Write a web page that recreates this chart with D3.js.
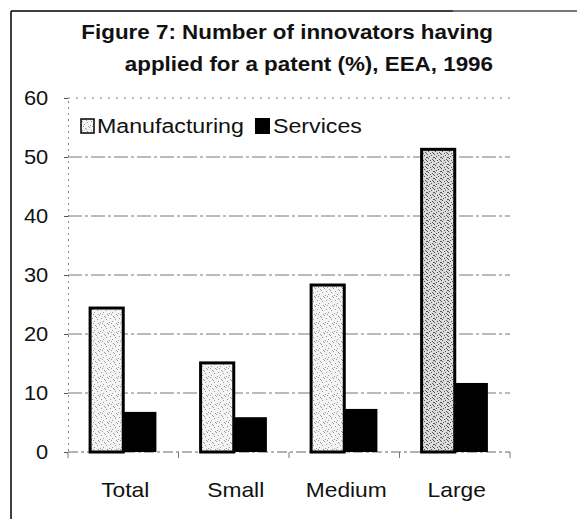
<!DOCTYPE html>
<html lang="en">
<head>
    <meta charset="UTF-8">
    <title>Figure 7</title>
    <script src="https://d3js.org/d3.v7.min.js"></script>
    <style>
        body { margin: 0; background: #fff; font-family: "Liberation Sans", Arial, sans-serif; }
        svg { display: block; }
    </style>
</head>
<body>
    <div id="container"></div>
    <script>
        // data
        const categories = ['Total', 'Small', 'Medium', 'Large'];
        const seriesNames = ['Manufacturing', 'Services'];
        const manufacturing = [24.4, 15.1, 28.3, 51.3];
        const services = [6.8, 5.9, 7.3, 11.7];
        const yTicks = [0, 10, 20, 30, 40, 50, 60];

        const width = 577, height = 519;
        const plot = {left: 68, right: 510, top: 98, bottom: 452};
        const stretch = 1.14; // the scanned text is wider than plain Arial

        const svg = d3.select('#container').append('svg')
            .attr('width', width).attr('height', height);

        // stipple patterns for manufacturing bars
        const defs = svg.append('defs');
        const pat = defs.append('pattern').attr('id', 'stip')
            .attr('width', 9).attr('height', 9).attr('patternUnits', 'userSpaceOnUse');
        pat.append('rect').attr('width', 9).attr('height', 9).attr('fill', '#f4f4f4');
        [[0,0],[5,1],[2,3],[7,4],[4,6],[1,7],[8,8],[6,2],[3,8]].forEach(p => {
            pat.append('rect').attr('x', p[0]).attr('y', p[1]).attr('width', 1).attr('height', 1).attr('fill', '#9a9a9a');
        });
        const pat2 = defs.append('pattern').attr('id', 'stipDark')
            .attr('width', 7).attr('height', 7).attr('patternUnits', 'userSpaceOnUse');
        pat2.append('rect').attr('width', 7).attr('height', 7).attr('fill', '#dcdcdc');
        [[0,0],[4,1],[2,2],[6,3],[1,4],[5,5],[3,6],[0,3],[6,6]].forEach(p => {
            pat2.append('rect').attr('x', p[0]).attr('y', p[1]).attr('width', 1).attr('height', 1).attr('fill', '#555');
        });

        // frame
        svg.append('line').attr('x1', 11).attr('x2', 11).attr('y1', 11).attr('y2', height)
            .attr('stroke', '#000').attr('stroke-width', 1.5);
        svg.append('line').attr('x1', 11).attr('x2', 453).attr('y1', 11).attr('y2', 11)
            .attr('stroke', '#000').attr('stroke-width', 1.5);
        svg.append('line').attr('x1', 453).attr('x2', width).attr('y1', 11).attr('y2', 11)
            .attr('stroke', '#777').attr('stroke-width', 2);

        const x = d3.scaleBand().domain(categories).range([plot.left, plot.right]);
        const y = d3.scaleLinear().domain([0, 60]).range([plot.bottom, plot.top]);

        // gridlines
        svg.append('g').selectAll('line').data(yTicks.slice(1)).enter().append('line')
            .attr('x1', plot.left).attr('x2', plot.right)
            .attr('y1', d => y(d)).attr('y2', d => y(d))
            .attr('stroke', '#777').attr('stroke-width', 1)
            .attr('stroke-dasharray', d => d === 60 ? '2,6' : '14,3,3,3');

        // y axis
        const yAxis = svg.append('g').attr('transform', `translate(${plot.left},0)`)
            .call(d3.axisLeft(y).tickValues(yTicks).tickSize(4).tickPadding(15));
        yAxis.select('.domain').attr('stroke', '#888').attr('stroke-dasharray', '2,4');
        yAxis.selectAll('.tick line').attr('stroke', '#555');
        yAxis.selectAll('text').attr('font-size', 21).attr('fill', '#111')
            .attr('font-family', '"Liberation Sans", Arial, sans-serif')
            .attr('transform', 'scale(1.04,1)');

        // x axis
        const xAxis = svg.append('g').attr('transform', `translate(0,${plot.bottom})`);
        xAxis.append('line').attr('x1', plot.left).attr('x2', plot.right)
            .attr('stroke', '#666').attr('stroke-dasharray', '10,3,3,3');
        xAxis.selectAll('.tk').data(d3.range(categories.length + 1)).enter().append('line')
            .attr('x1', i => plot.left + i * x.step()).attr('x2', i => plot.left + i * x.step())
            .attr('y1', 0).attr('y2', 6).attr('stroke', '#777');
        xAxis.selectAll('text').data(categories).enter().append('text')
            .attr('transform', d => `translate(${x(d) + x.bandwidth() / 2 + 2},45) scale(${stretch},1)`)
            .attr('text-anchor', 'middle').attr('font-size', 20).attr('fill', '#111')
            .text(d => d);

        // bars
        const barW = x.bandwidth() * 0.3;
        const groups = svg.append('g').selectAll('g').data(categories).enter().append('g');
        groups.append('rect')
            .attr('x', d => x(d) + x.bandwidth() * 0.2)
            .attr('y', (d, i) => y(manufacturing[i]))
            .attr('width', barW)
            .attr('height', (d, i) => y(0) - y(manufacturing[i]))
            .attr('fill', (d, i) => i === 3 ? 'url(#stipDark)' : 'url(#stip)')
            .attr('stroke', '#000').attr('stroke-width', 3);
        groups.append('rect')
            .attr('x', d => x(d) + x.bandwidth() * 0.2 + barW)
            .attr('y', (d, i) => y(services[i]))
            .attr('width', barW)
            .attr('height', (d, i) => y(0) - y(services[i]))
            .attr('fill', '#000');

        // title
        const title = svg.append('text').attr('text-anchor', 'end')
            .attr('transform', 'translate(493,0) scale(1.12,1)')
            .attr('font-weight', 'bold').attr('font-size', 20).attr('fill', '#111');
        title.append('tspan').attr('x', 0).attr('y', 39).text('Figure 7: Number of innovators having');
        title.append('tspan').attr('x', 0).attr('y', 71).text('applied for a patent (%), EEA, 1996');

        // legend
        const legend = svg.append('g').attr('transform', 'translate(80,118)');
        legend.append('rect').attr('x', 1).attr('y', 1).attr('width', 13).attr('height', 14)
            .attr('fill', 'url(#stip)').attr('stroke', '#000').attr('stroke-width', 1.5);
        legend.append('text').attr('transform', `translate(17,15) scale(${stretch + 0.02},1)`)
            .attr('font-size', 20).attr('fill', '#111').text(seriesNames[0]);
        legend.append('rect').attr('x', 175).attr('y', 0).attr('width', 15).attr('height', 16).attr('fill', '#000');
        legend.append('text').attr('transform', `translate(193,15) scale(${stretch + 0.02},1)`)
            .attr('font-size', 20).attr('fill', '#111').text(seriesNames[1]);
    </script>
</body>
</html>
